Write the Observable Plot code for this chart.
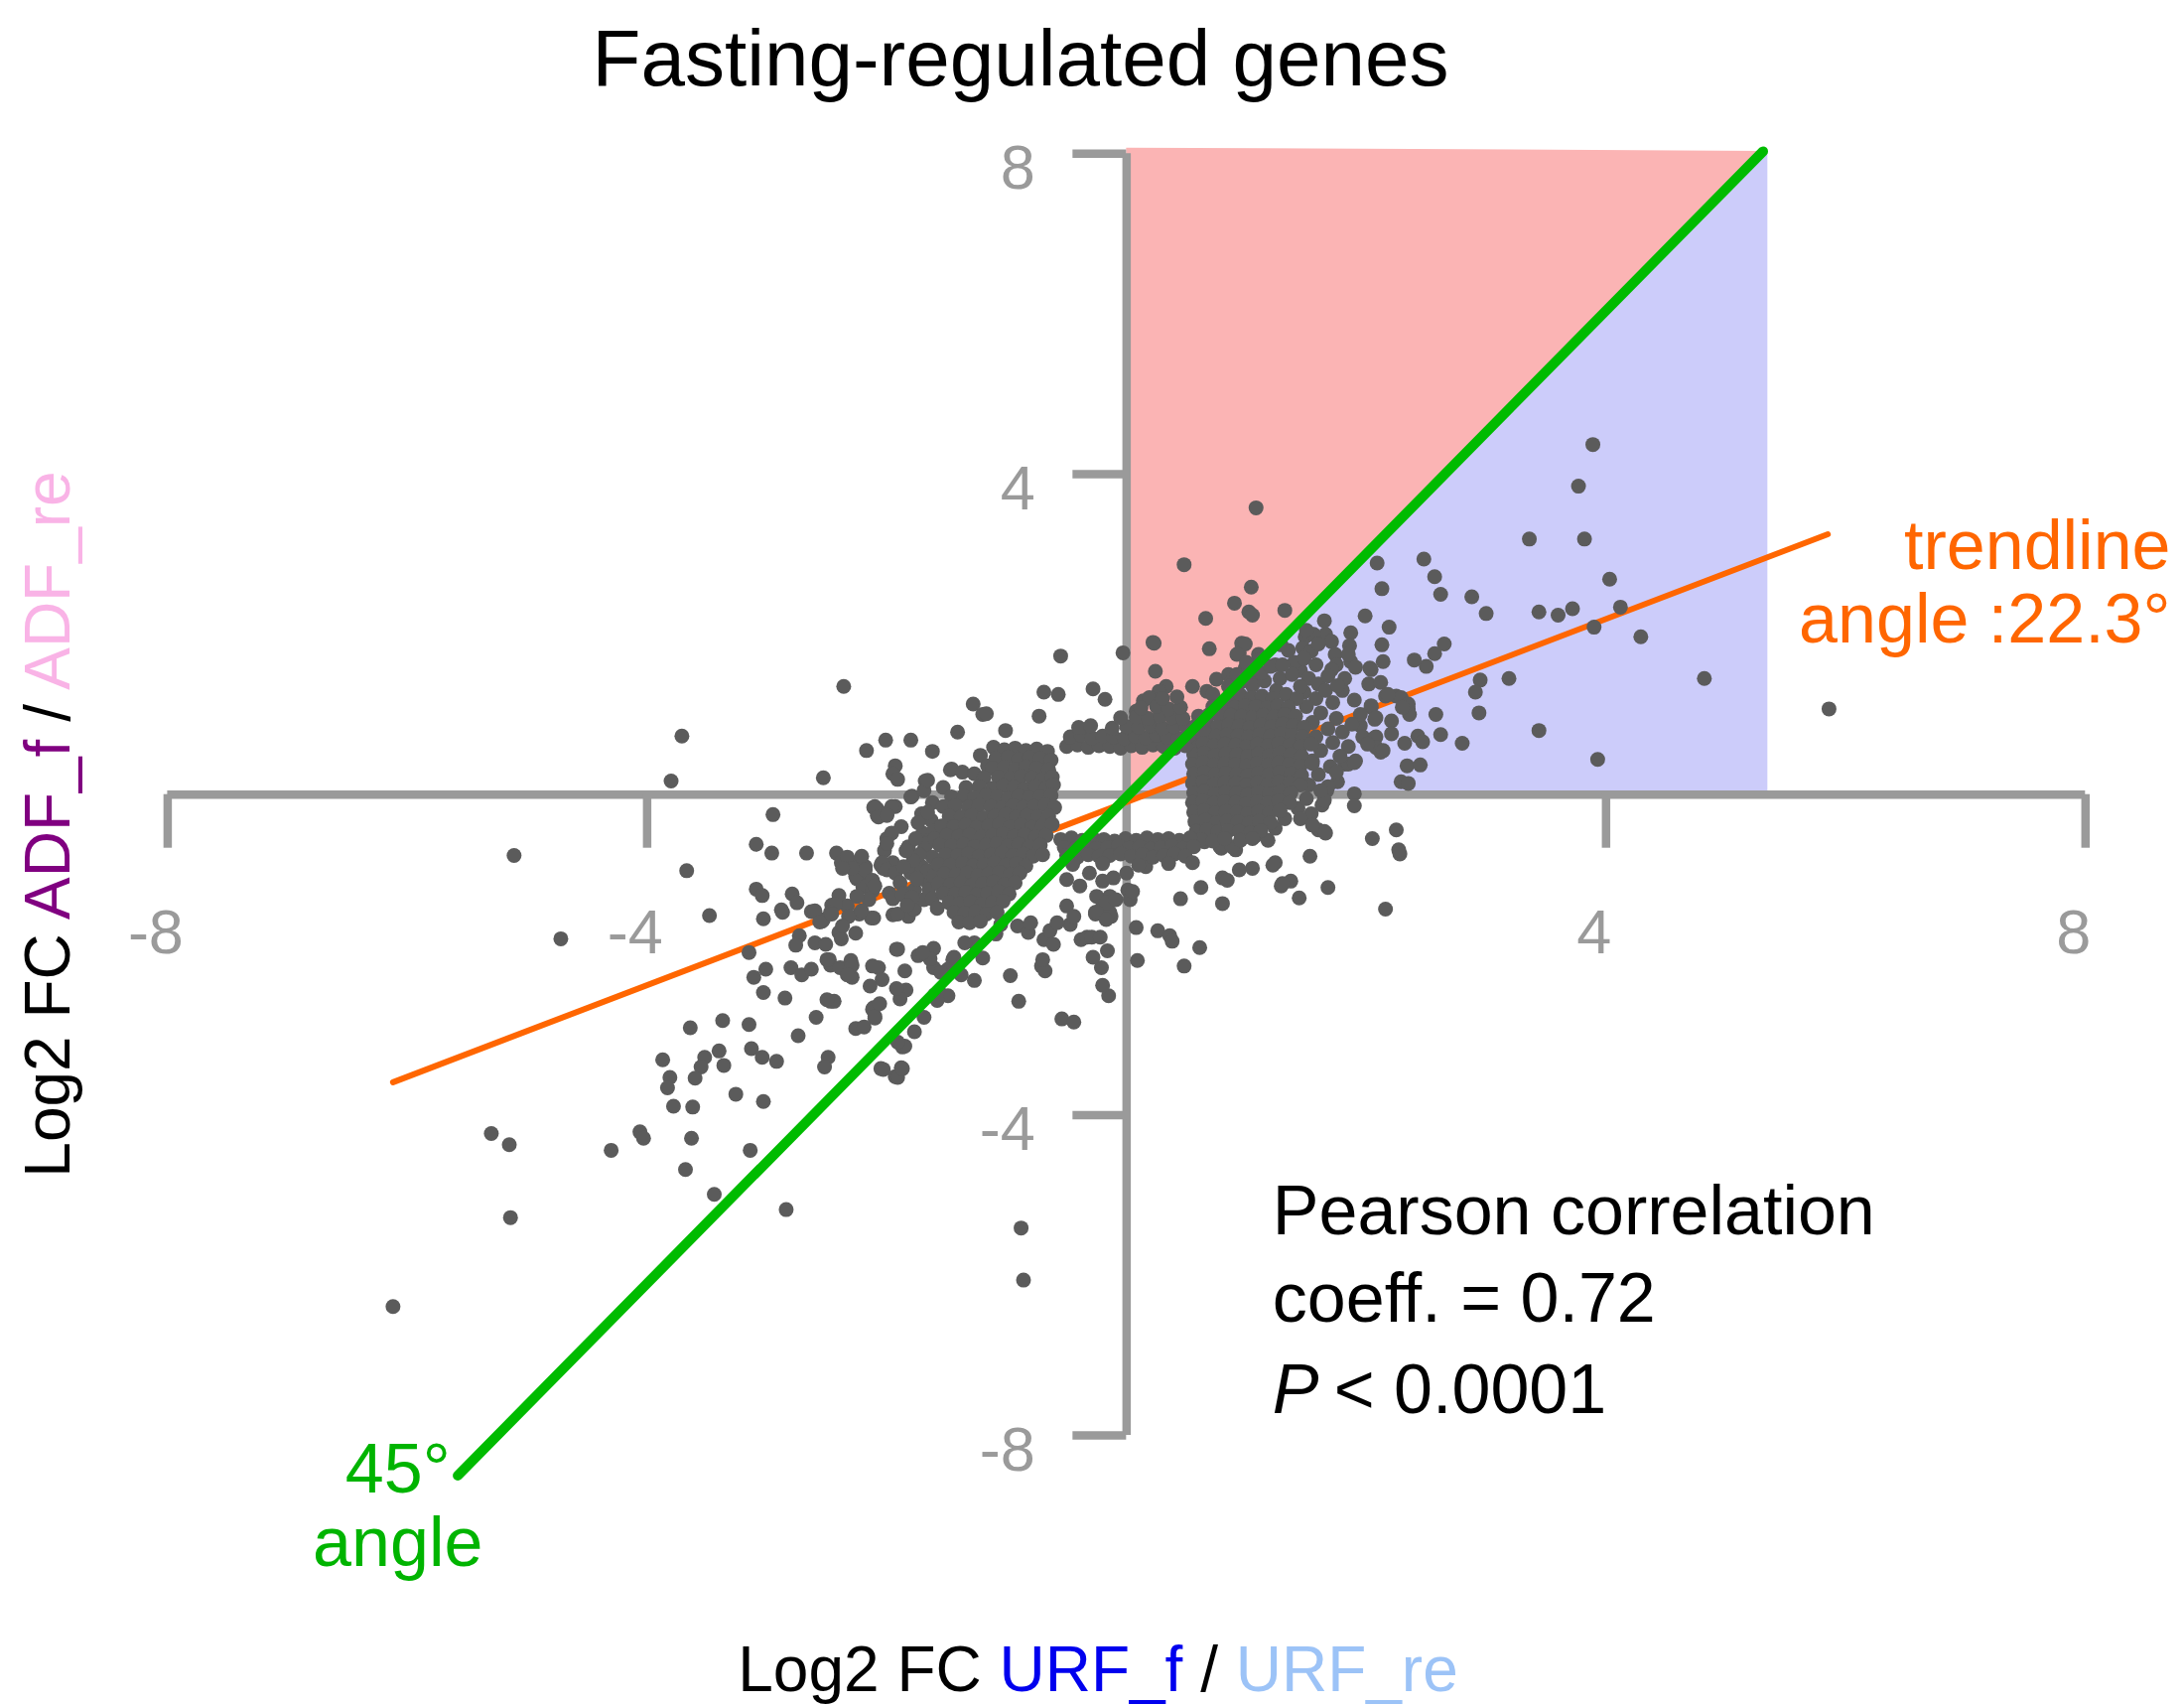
<!DOCTYPE html>
<html>
<head>
<meta charset="utf-8">
<script src="https://cdn.jsdelivr.net/npm/d3@7"></script>
<script src="https://cdn.jsdelivr.net/npm/@observablehq/plot@0.6"></script>
<style>
  html, body { margin: 0; padding: 0; background: #fff; }
  #wrap { position: relative; width: 2200px; height: 1718px; background: #fff; font-family: "Liberation Sans", Arial, sans-serif; }
  #title { position: absolute; top: 19px; left: 1028px; transform: translateX(-50%); font-size: 80px; line-height: 80px; white-space: nowrap; color: #000; }
  #chart { position: absolute; top: 120px; left: 0; }
  #xlabel { position: absolute; top: 1649px; left: 1106px; transform: translateX(-50%); font-size: 64px; line-height: 64px; white-space: pre; color: #000; }
</style>
</head>
<body>
<div id="wrap">
  <div id="title">Fasting-regulated genes</div>
  <div id="chart"></div>
  <div id="xlabel">Log2 FC <span style="color:#0000ee">URF_f</span> / <span style="color:#9cc3f7">URF_re</span></div>
</div>
<script>
// ---------- data ----------
const xTicks = [-8, -4, 4, 8];
const yTicks = [8, 4, -4, -8];

const line45 = [{x: -5.58, y: -8.50}, {x: 5.31, y: 8.03}];
const trendline = [{x: -6.12, y: -3.59}, {x: 5.85, y: 3.25}];

const upperRegion = [{x: 0, y1: 0, y2: 8.07}, {x: 5.31, y1: 8.03, y2: 8.03}];
const lowerRegion = [{x: 0, y1: 0, y2: 0}, {x: 5.31, y1: 0, y2: 8.03}, {x: 5.35, y1: 0, y2: 8.03}];

const sparsePoints = [
[-6.12,-6.39],[-5.14,-5.28],[-5.30,-4.23],[-5.15,-4.37],[-4.30,-4.44],[-4.06,-4.21],[-4.03,-4.29],[-3.63,-4.29],[-3.68,-4.68],[-3.14,-4.44],[-3.44,-4.99],[-2.84,-5.18],[-0.88,-5.41],[-0.86,-6.06],
[-5.11,-0.76],[-4.72,-1.80],[-3.80,0.17],[-3.71,0.73],[-3.67,-0.95],[-3.48,-1.51],[-2.53,0.21],[-2.95,-0.25],[-2.36,1.35],[-3.09,-0.62],[-2.96,-0.73],[-2.67,-0.73],
[-3.09,-1.18],[-3.04,-1.26],[-2.79,-1.24],[-3.03,-1.55],[-2.87,-1.47],[-3.15,-1.97],[-3.11,-2.28],[-3.01,-2.18],[-3.03,-2.47],[-2.85,-2.54],[-2.80,-2.16],
[-2.63,-1.46],[-2.53,-1.56],[-2.40,-1.26],[-2.46,-1.38],[-2.40,-1.72],[-2.38,-1.80],[-2.26,-1.73],[-2.73,-1.76],[-2.76,-1.88],[-2.60,-1.85],[-2.51,-1.87],
[-2.48,-2.06],[-2.47,-2.13],[-2.39,-2.16],[-2.30,-2.07],[-2.29,-2.28],[-2.47,-2.58],[-2.44,-2.58],[-2.59,-2.78],[-2.74,-3.01],[-3.15,-2.87],[-3.37,-2.82],[-3.64,-2.91],
[-3.13,-3.17],[-3.04,-3.28],[-2.92,-3.33],[-3.40,-3.20],[-3.36,-3.38],[-3.52,-3.28],[-3.55,-3.40],[-3.60,-3.54],[-3.87,-3.31],[-3.81,-3.53],[-3.83,-3.66],[-3.78,-3.89],[-3.62,-3.90],[-3.26,-3.74],[-3.03,-3.83],[-2.49,-3.28],[-2.52,-3.40],[-2.05,-3.42],[-1.93,-3.52],
[-2.14,-2.39],[-2.11,-2.66],[-2.10,-2.79],[-2.26,-2.92],[-2.19,-2.90],[-2.07,-2.16],[-2.04,-2.31],[-1.92,-1.93],[-2.13,-1.54],[-2.23,-1.49],[-1.95,-1.50],
[-2.08,-0.18],[-2.00,-0.25],[-1.93,-0.15],[-2.28,-0.85],[-2.22,-1.00],[-2.25,-1.05],[-2.18,-0.90],[-2.00,-0.55],[-1.95,-0.85],[-2.02,-0.70],[-2.05,-0.88],[-2.20,-1.15],[-2.12,-1.20],
[-0.55,1.73],[-0.03,1.77],[0.22,1.90],[-0.69,1.28],[-0.57,1.25],[-0.73,0.98],[-1.28,1.13],[-1.20,1.00],[-1.17,1.01],[-1.41,0.78],[-1.01,0.80],[-2.17,0.55],[-2.01,0.68],[-1.80,0.68],[-1.62,0.54],[-1.93,0.36],[-1.95,0.26],[-1.91,0.19],[-1.79,-0.02],[-1.68,0.17],[-1.47,0.31],[-2.11,-0.16],[-2.02,-0.24],[-2.08,-0.26],
[-1.46,0.32],[-1.37,0.28],[-1.27,0.26],[-1.22,0.49],[-1.16,0.36],[-1.11,0.59],[-1.80,-0.03],[-1.69,0.05],[-1.66,0.18],[-1.53,0.09],[-2.10,-0.15],[-2.07,-0.28],[-1.96,-0.15],[-2.00,-0.26],
[-1.88,-0.40],[-1.96,-0.48],[-2.00,-0.61],[-1.82,-0.65],[-1.71,-0.24],[-1.70,-0.48],
[-2.42,-0.73],[-2.38,-0.85],[-2.32,-0.90],[-2.21,-0.77],[-2.26,-1.02],[-2.18,-0.94],[-2.33,-0.78],[-2.29,-0.92],[-2.37,-0.92],[-2.03,-0.92],[-2.12,-1.07],
[-2.04,-0.85],[-2.00,-0.94],[-1.93,-0.98],[-1.89,-1.10],[-1.85,-1.23],[-1.98,-1.23],[-2.10,-1.14],[-2.15,-1.31],[-2.25,-1.27],[-2.33,-1.39],[-2.43,-1.37],[-2.47,-1.47],[-2.54,-1.58],[-2.60,-1.45],[-2.32,-1.52],[-2.21,-1.45],[-2.11,-1.54],
[-1.82,-1.52],[-1.77,-1.43],[-1.69,-1.31],[-1.77,-1.19],[-1.69,-1.06],[-1.80,-0.98],[-1.71,-0.90],[-1.69,-0.69],[-1.64,-0.57],[-1.63,-0.32],[-1.55,-0.40],
[-1.95,-1.30],[-1.87,-1.25],[-1.91,-1.49],[-2.88,-1.44],[-2.75,-1.35],[-2.56,-1.59],[-2.46,-1.49],[-2.37,-1.64],
[-2.50,-2.56],[-2.12,-2.68],[-2.10,-2.77],[-1.87,-3.15],[-1.91,-3.53],[-2.03,-3.43],[-1.88,-3.41],[-1.60,-2.50],[-2.06,-2.61],[-2.12,-2.14],
[-1.55,-2.49],[-1.61,-2.16],[-1.45,-2.06],[-1.74,-2.01],[-1.61,-1.92],[-1.49,-2.18],[-1.38,-2.25],[-2.50,-2.06],[-2.29,-2.13],[-2.33,-2.25],[-2.71,-2.25],[-2.63,-2.18],
[-1.69,-2.78],[-1.77,-2.96],[-1.85,-3.14],[-1.91,-3.09],[-1.87,-3.42],[-1.49,-2.51],[-1.58,-2.57],[-1.55,-2.22],[-1.64,-2.05],[-1.70,-1.97],[-1.85,-2.20],[-1.91,-1.93],[-1.84,-2.44],[-1.89,-2.55],[-1.92,-2.42],
[-1.27,-1.85],[-1.35,-1.85],[-1.44,-2.03],[-1.20,-2.04],[-1.09,-1.74],[-1.27,-2.32],[-0.97,-2.26],[-0.90,-2.58],[-0.54,-2.80],[-0.44,-2.84],[-0.71,-2.14],[-0.68,-2.20],[-0.70,-2.06],
[-0.91,-1.64],[-0.82,-1.72],[-0.69,-1.81],[-0.64,-1.70],[-0.61,-1.87],[-0.47,-1.62],[-0.38,-1.81],[-0.33,-1.78],[-0.29,-1.78],[-0.26,-1.47],[-0.20,-1.39],[-0.13,-1.52],[-0.14,-1.27],[0.01,-1.19],[0.03,-1.31],
[-0.15,-2.51],[-0.20,-2.38],[-0.21,-2.16],[-0.28,-2.03],[-0.26,-1.49],[-0.14,-1.47],[-0.22,-1.78],[-0.16,-1.95],
[-0.50,-1.06],[-0.39,-1.14],[-0.31,-0.98],[-0.20,-1.08],[-0.11,-1.04],[0.00,-0.98],[0.16,-0.90],[-0.25,-1.27],[-0.17,-1.35],[-0.09,-1.31],[0.05,-1.21],[-0.25,-1.47],[-0.17,-1.56],[-0.50,-1.39],[-0.44,-1.52],[-0.58,-1.60],[-0.80,-1.60],
[0.08,-1.66],[0.09,-2.07],[0.26,-1.70],[0.36,-1.76],[0.38,-1.83],[0.48,-2.14],[0.61,-1.91],[0.45,-1.30],[0.62,-1.16],[0.80,-1.04],[0.80,-1.36],[1.29,-1.14],[1.37,-1.08],[1.44,-1.29],[1.68,-1.16],[1.53,-0.77],[1.24,-0.85],[1.05,-0.92],[0.94,-0.94],[2.16,-1.43],[2.28,-0.74],[2.27,-0.69],[2.25,-0.44],[2.05,-0.55],[0.84,-1.07],[1.22,-0.88],[1.30,-1.11],
[0.79,-0.67],[0.91,-0.69],[0.65,-0.59],[0.78,-0.65],[0.88,-0.65],[0.99,-0.52],[1.07,-0.52],[1.18,-0.57],[1.24,-0.42],[1.32,-0.30],[1.43,-0.17],[1.54,-0.24],[1.60,-0.44],[1.65,-0.46],[1.66,-0.48],
[3.89,4.37],[3.77,3.85],[3.82,3.19],[3.36,3.19],[1.08,3.58],[0.48,2.87],[1.04,2.59],[2.09,2.89],[2.48,2.94],[2.13,2.57],[2.57,2.72],[2.62,2.50],[2.88,2.47],[3.00,2.26],[4.03,2.69],[4.12,2.34],[3.44,2.28],[3.60,2.24],[3.72,2.32],[3.90,2.09],[4.29,1.97],[4.82,1.45],[5.86,1.07],[3.93,0.44],[3.44,0.80],[3.19,1.45],[2.95,1.43],[2.91,1.28],[2.94,1.02],[2.80,0.64],[2.62,0.75],[2.58,1.00],[2.43,0.73],[2.47,0.66],[2.32,0.64],[2.34,0.36],[2.45,0.37],[2.29,0.16],[2.35,0.14],
[2.65,1.88],[2.57,1.76],[2.50,1.60],[2.40,1.68],[2.25,1.23],[2.35,1.07],[2.36,1.00],[1.99,2.23],[2.19,2.09],[2.13,1.87],[2.14,1.66],[1.87,2.02],[1.86,1.86],[1.65,2.17],[1.66,2.00],[1.32,2.30],[0.66,2.20],[0.23,1.89],[0.69,1.82],[0.24,1.54],[0.90,2.39],[1.02,2.28],[1.05,2.24],[0.96,1.89],[0.94,1.77],[0.75,1.44],[0.55,1.35],
[1.87,1.66],[1.91,1.59],[2.04,1.56],[2.02,1.38],[2.12,1.40],[2.16,1.23],[2.29,1.21],[2.35,1.13],[2.04,1.09],[2.07,0.94],[2.21,0.92],[1.95,0.86],[1.97,0.72],[2.08,0.72],[2.12,0.53],[1.82,0.38],[1.91,0.42],[1.76,0.16],[1.67,0.05],[1.90,0.01],[1.90,-0.14],[1.63,-0.13],[1.65,-0.07],
[0.99,1.88],[0.92,1.75],[0.33,1.35],[0.27,1.29],[0.14,1.17],[0.08,1.04],[0.19,1.21],[0.67,1.29],[0.72,1.25],[0.85,1.50],[0.88,1.42],[0.99,1.58],[1.07,1.42],[1.10,1.75],[1.24,1.62],[1.29,1.87],
[1.49,1.97],[1.56,2.00],[1.47,1.83],[1.54,1.79],[1.71,1.91],[1.74,1.75],[1.75,1.62],[1.71,1.56],[1.85,1.75],[2.03,1.58],[2.18,1.25],[2.30,1.09],[2.04,1.11],[2.08,0.96],[2.07,0.71],[2.08,0.59],[2.14,0.55],[2.01,0.63],[2.21,0.76],
[1.85,0.38],[1.90,0.40],[1.68,0.10],[-0.28,1.32],[-0.18,1.19]
];

const leftFringe = [
[-1.62,-0.10],[-1.66,-0.22],[-1.61,-0.45],[-1.67,-0.62],[-1.62,-0.78],[-1.66,-0.95],[-1.61,-1.02],[-1.65,-1.18],[-1.62,-1.30],[-1.74,-0.35],
[-1.76,-0.55],[-1.73,-0.75],[-1.78,-0.82],[-1.75,-1.05],[-1.79,-1.28],[-1.84,-0.70],[-1.86,-0.90],[-1.83,-1.38],[-1.58,-1.42],[-1.60,-0.55]
];

const rightFringe = [
[1.45,1.55],[1.52,1.45],[1.60,1.38],[1.48,1.28],[1.58,1.20],[1.66,1.30],[1.72,1.15],[1.50,1.10],[1.62,1.02],[1.75,0.95],[1.55,0.90],[1.68,0.82],[1.80,0.78],[1.58,0.72],[1.72,0.65],[1.85,0.60],[1.62,0.55],[1.78,0.48],[1.55,0.42],[1.70,0.35],[1.60,0.25],[1.75,0.28],[1.52,0.12],[1.62,0.05],[1.50,-0.05],[1.45,-0.30],[1.55,-0.38],[1.80,1.30],[1.82,1.45],[1.90,1.18],[1.95,1.00],[1.88,0.88],[1.40,1.65],[1.35,1.80],
[1.48,1.70],[1.58,1.62],[1.68,1.48],[1.76,1.36],[1.60,1.88],[1.50,2.05],
[0.85,1.35],[0.95,1.40],[1.05,1.36],[1.15,1.42],[0.92,1.50],[1.02,1.55],[1.12,1.52],[1.20,1.60],[1.10,1.68],[1.00,1.65],[1.25,1.30],[1.33,1.25],[1.42,1.20],[1.28,1.45],[1.38,1.50],[1.45,1.35],[1.30,1.62]
];

const leftCluster = [
[-1.02,0.56],[-0.93,0.58],[-0.84,0.55],[-0.75,0.57],[-0.66,0.54],
[-1.09,0.45],[-0.99,0.47],[-0.90,0.44],[-0.81,0.46],[-0.72,0.45],[-0.63,0.43],
[-1.12,0.33],[-1.02,0.34],[-0.93,0.32],[-0.84,0.35],[-0.75,0.33],[-0.65,0.31],
[-1.19,0.21],[-1.07,0.22],[-0.97,0.20],[-0.88,0.23],[-0.79,0.21],[-0.70,0.19],[-0.62,0.22],
[-1.34,0.09],[-1.23,0.10],[-1.12,0.08],[-1.03,0.11],[-0.94,0.09],[-0.85,0.07],[-0.76,0.10],[-0.67,0.08],[-0.61,0.12],
[-1.46,-0.03],[-1.36,-0.02],[-1.27,-0.04],[-1.17,-0.01],[-1.08,-0.03],[-0.99,-0.05],[-0.90,-0.02],[-0.81,-0.04],[-0.72,-0.03],[-0.63,-0.01],
[-1.53,-0.15],[-1.43,-0.14],[-1.32,-0.16],[-1.23,-0.13],[-1.13,-0.15],[-1.04,-0.17],[-0.95,-0.14],[-0.86,-0.16],[-0.77,-0.15],[-0.68,-0.13],[-0.60,-0.16],
[-1.48,-0.27],[-1.38,-0.28],[-1.29,-0.26],[-1.19,-0.29],[-1.10,-0.27],[-1.01,-0.25],[-0.92,-0.28],[-0.83,-0.26],[-0.74,-0.28],[-0.65,-0.27],
[-1.54,-0.39],[-1.44,-0.40],[-1.34,-0.38],[-1.25,-0.41],[-1.15,-0.39],[-1.06,-0.37],[-0.97,-0.40],[-0.88,-0.38],[-0.79,-0.41],[-0.70,-0.39],[-0.62,-0.37],
[-1.50,-0.51],[-1.40,-0.52],[-1.31,-0.50],[-1.21,-0.53],[-1.12,-0.51],[-1.03,-0.49],[-0.94,-0.52],[-0.85,-0.50],[-0.76,-0.53],[-0.67,-0.51],
[-1.56,-0.63],[-1.46,-0.64],[-1.36,-0.62],[-1.27,-0.65],[-1.17,-0.63],[-1.08,-0.61],[-0.99,-0.64],[-0.90,-0.62],[-0.81,-0.65],[-0.72,-0.63],
[-1.51,-0.75],[-1.41,-0.76],[-1.32,-0.74],[-1.23,-0.77],[-1.13,-0.75],[-1.04,-0.73],[-0.95,-0.76],[-0.86,-0.74],[-0.78,-0.77],[-0.70,-0.75],
[-1.57,-0.87],[-1.47,-0.88],[-1.37,-0.86],[-1.28,-0.89],[-1.19,-0.87],[-1.10,-0.85],[-1.01,-0.88],[-0.92,-0.86],[-0.84,-0.89],
[-1.52,-0.99],[-1.42,-1.00],[-1.33,-0.98],[-1.24,-1.01],[-1.15,-0.99],[-1.06,-0.97],[-0.97,-1.00],[-0.89,-0.98],
[-1.57,-1.11],[-1.47,-1.12],[-1.38,-1.10],[-1.29,-1.13],[-1.20,-1.11],[-1.11,-1.09],[-1.02,-1.12],[-0.93,-1.10],
[-1.53,-1.23],[-1.43,-1.24],[-1.34,-1.22],[-1.25,-1.25],[-1.16,-1.23],[-1.07,-1.21],[-0.98,-1.24],
[-1.48,-1.35],[-1.39,-1.36],[-1.30,-1.34],[-1.21,-1.37],[-1.12,-1.35],[-1.03,-1.33],
[-1.44,-1.47],[-1.35,-1.48],[-1.26,-1.46],[-1.17,-1.49],[-1.08,-1.47],
[-1.40,-1.59],[-1.31,-1.60],[-1.22,-1.58],[-1.05,-1.62]
];

const rightCluster = [
[0.86,1.22],[0.95,1.24],[1.04,1.21],[1.13,1.23],[1.22,1.20],
[0.72,1.10],[0.81,1.12],[0.90,1.09],[0.99,1.11],[1.08,1.10],[1.17,1.08],[1.26,1.11],[1.35,1.09],
[0.60,0.98],[0.69,1.00],[0.78,0.97],[0.87,0.99],[0.96,0.98],[1.05,0.96],[1.14,0.99],[1.23,0.97],[1.32,1.00],[1.41,0.98],
[0.58,0.86],[0.67,0.88],[0.76,0.85],[0.85,0.87],[0.94,0.86],[1.03,0.84],[1.12,0.87],[1.21,0.85],[1.30,0.88],[1.39,0.86],[1.48,0.84],
[0.57,0.74],[0.66,0.76],[0.75,0.73],[0.84,0.75],[0.93,0.74],[1.02,0.72],[1.11,0.75],[1.20,0.73],[1.29,0.76],[1.38,0.74],[1.47,0.72],
[0.55,0.62],[0.64,0.64],[0.73,0.61],[0.82,0.63],[0.91,0.62],[1.00,0.60],[1.09,0.63],[1.18,0.61],[1.27,0.64],[1.36,0.62],[1.45,0.60],[1.54,0.63],
[0.56,0.50],[0.65,0.52],[0.74,0.49],[0.83,0.51],[0.92,0.50],[1.01,0.48],[1.10,0.51],[1.19,0.49],[1.28,0.52],[1.37,0.50],[1.46,0.48],
[0.55,0.38],[0.64,0.40],[0.73,0.37],[0.82,0.39],[0.91,0.38],[1.00,0.36],[1.09,0.39],[1.18,0.37],[1.27,0.40],[1.36,0.38],[1.45,0.36],[1.55,0.39],
[0.56,0.26],[0.65,0.28],[0.74,0.25],[0.83,0.27],[0.92,0.26],[1.01,0.24],[1.10,0.27],[1.19,0.25],[1.28,0.28],[1.37,0.26],[1.46,0.24],
[0.55,0.14],[0.64,0.16],[0.73,0.13],[0.82,0.15],[0.91,0.14],[1.00,0.12],[1.09,0.15],[1.18,0.13],[1.27,0.16],[1.36,0.14],[1.45,0.12],
[0.56,0.02],[0.65,0.04],[0.74,0.01],[0.83,0.03],[0.92,0.02],[1.01,0.00],[1.10,0.03],[1.19,0.01],[1.28,0.04],[1.37,0.02],
[0.55,-0.10],[0.64,-0.08],[0.73,-0.11],[0.82,-0.09],[0.91,-0.10],[1.00,-0.12],[1.09,-0.09],[1.18,-0.11],[1.27,-0.08],[1.36,-0.10],
[0.56,-0.22],[0.65,-0.20],[0.74,-0.23],[0.83,-0.21],[0.92,-0.22],[1.01,-0.24],[1.10,-0.21],[1.19,-0.23],[1.28,-0.20],
[0.57,-0.34],[0.66,-0.32],[0.75,-0.35],[0.84,-0.33],[0.93,-0.34],[1.02,-0.36],[1.11,-0.33],[1.20,-0.35],
[0.58,-0.46],[0.67,-0.44],[0.76,-0.47],[0.85,-0.45],[0.94,-0.46],[1.03,-0.48],[1.12,-0.45],
[0.62,-0.56],[0.72,-0.58],[0.82,-0.55],[0.95,-0.57],[1.05,-0.55]
];

const upperBand = [
[-0.50,0.60],[-0.41,0.62],[-0.32,0.59],[-0.23,0.61],[-0.14,0.60],[-0.05,0.58],[0.04,0.61],[0.13,0.59],[0.22,0.62],[0.31,0.60],[0.40,0.58],[0.49,0.61],
[-0.47,0.72],[-0.38,0.74],[-0.29,0.71],[-0.20,0.73],[-0.11,0.72],[-0.02,0.70],[0.07,0.73],[0.16,0.71],[0.25,0.74],[0.34,0.72],[0.43,0.70],[0.52,0.73],
[-0.40,0.84],[-0.30,0.86],[-0.12,0.83],[0.00,0.85],[0.10,0.84],[0.20,0.86],[0.30,0.83],[0.40,0.85],[0.50,0.84],
[-0.05,0.96],[0.08,0.97],[0.18,0.95],[0.28,0.98],[0.38,0.96],[0.47,0.95],
[0.12,1.08],[0.25,1.10],[0.35,1.07],[0.45,1.09],
[0.30,1.20],[0.42,1.22]
];

const lowerBand = [
[-0.55,-0.56],[-0.46,-0.54],[-0.37,-0.57],[-0.28,-0.55],[-0.19,-0.56],[-0.10,-0.58],[-0.01,-0.55],[0.08,-0.57],[0.17,-0.54],[0.26,-0.56],[0.35,-0.55],[0.44,-0.57],[0.53,-0.54],
[-0.52,-0.66],[-0.43,-0.68],[-0.34,-0.65],[-0.25,-0.67],[-0.16,-0.66],[-0.07,-0.64],[0.02,-0.67],[0.11,-0.65],[0.20,-0.68],[0.29,-0.66],[0.38,-0.64],[0.47,-0.67],[0.56,-0.65],
[-0.50,-0.76],[-0.41,-0.78],[-0.32,-0.75],[-0.23,-0.77],[-0.14,-0.76],[-0.05,-0.74],[0.04,-0.77],[0.13,-0.75],[0.22,-0.78],[0.31,-0.76],[0.40,-0.74],[0.49,-0.77],
[-0.45,-0.87],[-0.20,-0.86],[0.10,-0.88],[0.35,-0.86],[0.55,-0.85]
];

const trendLabels = ["trendline", "angle :22.3°"];
const angleLabels = ["45°", "angle"];
const statsLabels = ["Pearson correlation", "coeff. = 0.72"];

// ---------- build ----------
const genes = [...sparsePoints, ...leftFringe, ...rightFringe, ...leftCluster, ...rightCluster, ...upperBand, ...lowerBand]
  .map(([x, y]) => ({x, y}));

const axisColor = "#9a9a9a";
const font = "'Liberation Sans', Arial, sans-serif";

const chart = Plot.plot({
  width: 2200,
  height: 1500,
  marginTop: 34.3,
  marginBottom: 174.9,
  marginLeft: 168.4,
  marginRight: 99.7,
  x: {domain: [-8, 8], axis: null},
  y: {domain: [-8, 8], axis: null},
  style: {fontFamily: font, background: "#fff", overflow: "visible"},
  marks: [
    Plot.areaY(upperRegion, {x: "x", y1: "y1", y2: "y2", fill: "#fbb4b4"}),
    Plot.areaY(lowerRegion, {x: "x", y1: "y1", y2: "y2", fill: "#ccccfa"}),
    Plot.ruleY([0], {stroke: axisColor, strokeWidth: 8.5}),
    Plot.ruleX([0], {stroke: axisColor, strokeWidth: 8.5}),
    Plot.ruleX(xTicks, {x: d => d, y1: 0, y2: 0, insetBottom: -54, stroke: axisColor, strokeWidth: 8.5}),
    Plot.ruleY(yTicks, {y: d => d, x1: 0, x2: 0, insetLeft: -54, stroke: axisColor, strokeWidth: 8.5}),
    Plot.text(xTicks, {x: d => d, y: 0, text: d => String(d), dy: 140, dx: -12, fontSize: 63, fill: axisColor}),
    Plot.text(yTicks, {x: 0, y: d => d, text: d => String(d), textAnchor: "end", dx: -92, dy: 15, fontSize: 63, fill: axisColor}),
    Plot.line(trendline, {x: "x", y: "y", stroke: "#ff6600", strokeWidth: 6}),
    Plot.dot(genes, {x: "x", y: "y", r: 7.5, fill: "#5b5b5b"}),
    Plot.line(line45, {x: "x", y: "y", stroke: "#00bb00", strokeWidth: 10}),
    Plot.text(trendLabels, {x: 8.71, y: (d, i) => [2.82, 1.90][i], text: d => d, textAnchor: "end", lineAnchor: "bottom", fill: "#ff6600", fontSize: 70}),
    Plot.text(angleLabels, {x: -6.08, y: (d, i) => [-8.71, -9.63][i], text: d => d, textAnchor: "middle", lineAnchor: "bottom", fill: "#00b400", fontSize: 70}),
    Plot.text(statsLabels, {x: 1.217, y: (d, i) => [-5.49, -6.58][i], text: d => d, textAnchor: "start", lineAnchor: "bottom", fill: "#000", fontSize: 70}),
    Plot.text(["P"], {x: 1.217, y: -7.72, text: d => d, textAnchor: "start", lineAnchor: "bottom", fill: "#000", fontSize: 70, fontStyle: "italic"}),
    Plot.text(["< 0.0001"], {x: 1.217, y: -7.72, text: d => d, dx: 62, textAnchor: "start", lineAnchor: "bottom", fill: "#000", fontSize: 70})
  ]
});

// rotated, multi-coloured y-axis label
const yl = d3.select(chart).append("text")
  .attr("transform", "translate(70,710) rotate(-90)")
  .attr("text-anchor", "middle")
  .style("font-size", "64px")
  .style("font-family", font)
  .style("white-space", "pre");
yl.append("tspan").attr("fill", "#000").text("Log2 FC ");
yl.append("tspan").attr("fill", "#800080").text("ADF_f");
yl.append("tspan").attr("fill", "#000").text(" / ");
yl.append("tspan").attr("fill", "#f9b3e6").text("ADF_re");

document.getElementById("chart").appendChild(chart);
</script>
</body>
</html>
